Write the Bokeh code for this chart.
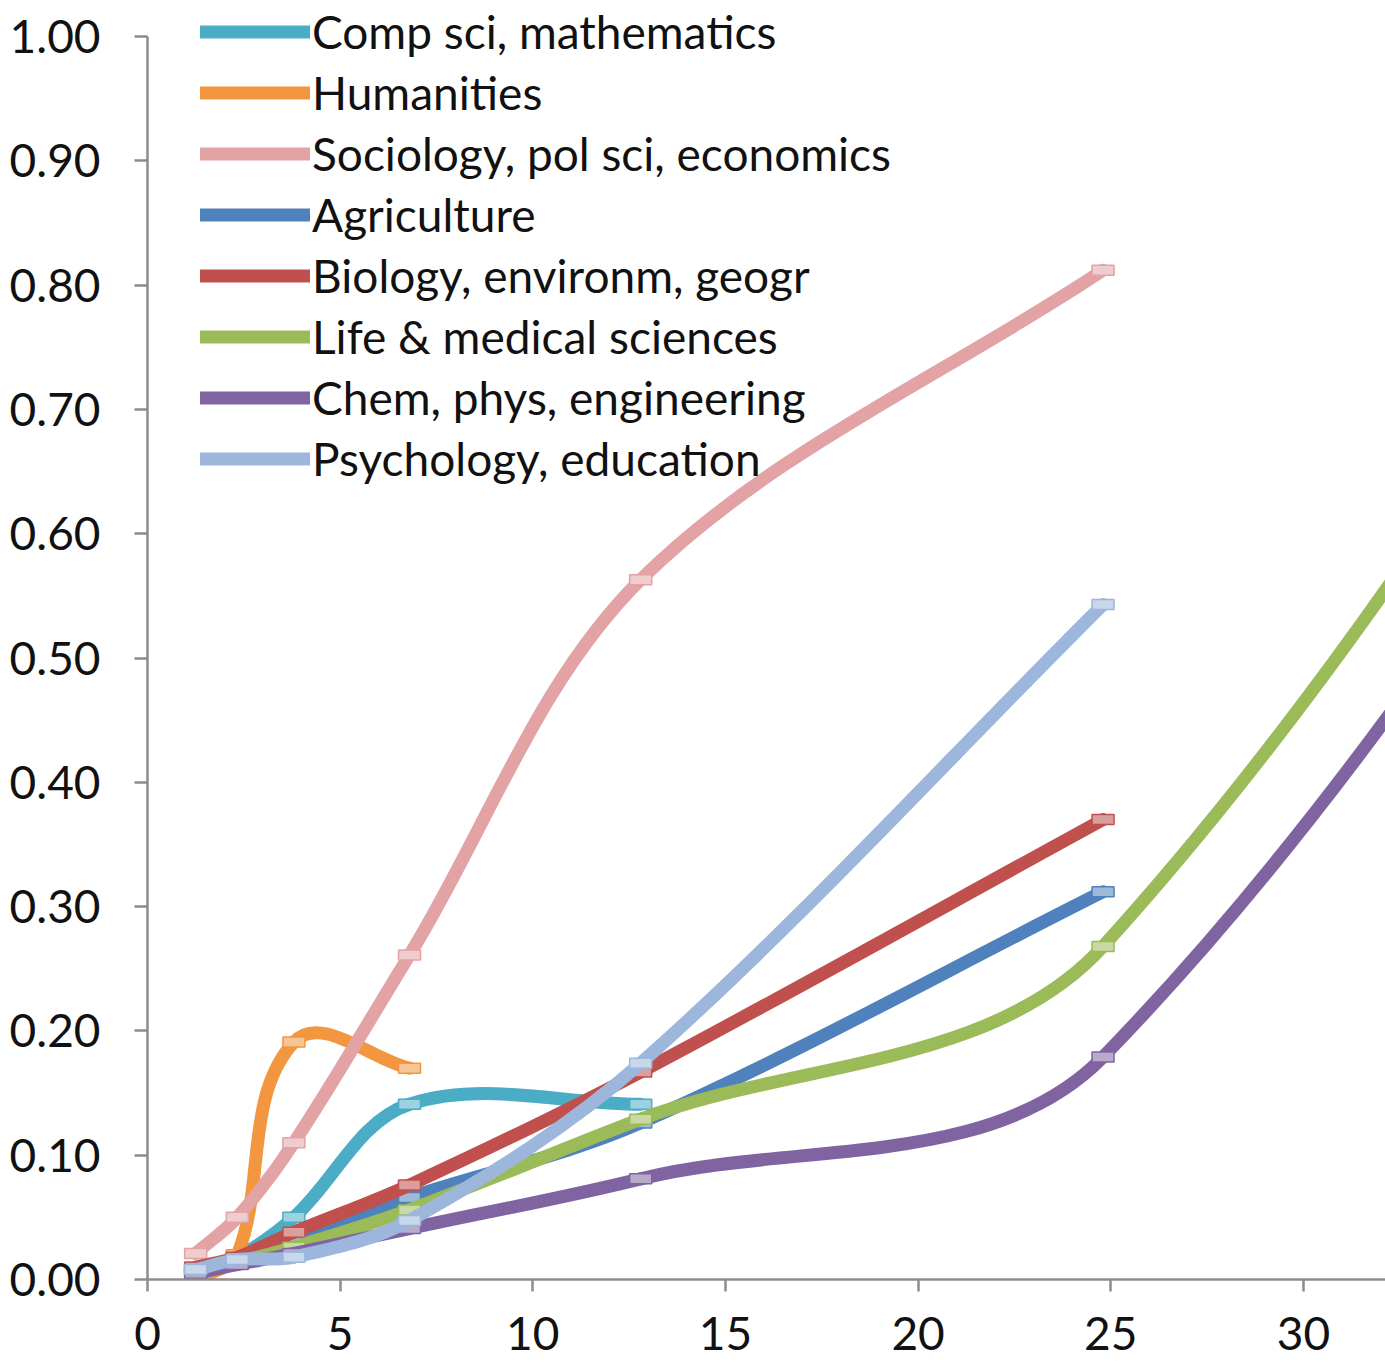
import math
from bokeh.plotting import figure
from bokeh.models import (FixedTicker, NumeralTickFormatter, Legend, LegendItem,
                          ColumnDataSource, Range1d)
from bokeh.embed import file_html
from bokeh.resources import INLINE

# ---------------- data ----------------
X = [1.25, 2.33, 3.8, 6.8, 12.8, 24.8, 48.8]

series_names = [
    "Comp sci, mathematics",
    "Humanities",
    "Sociology, pol sci, economics",
    "Agriculture",
    "Biology, environm, geogr",
    "Life & medical sciences",
    "Chem, phys, engineering",
    "Psychology, education",
]
comp_sci    = [0.008, 0.018, 0.050, 0.141, 0.141]
humanities  = [0.000, 0.020, 0.191, 0.170]
sociology   = [0.021, 0.050, 0.110, 0.261, 0.563, 0.812]
agriculture = [0.008, 0.016, 0.033, 0.066, 0.126, 0.312]
biology     = [0.010, 0.018, 0.038, 0.076, 0.167, 0.370]
life_med    = [0.007, 0.014, 0.026, 0.056, 0.129, 0.268, 1.36]
chem_phys   = [0.005, 0.012, 0.021, 0.041, 0.081, 0.179, 1.23]
psychology  = [0.008, 0.016, 0.018, 0.0475, 0.174, 0.543]
series_values = [comp_sci, humanities, sociology, agriculture, biology,
                 life_med, chem_phys, psychology]

x_ticks = [0, 5, 10, 15, 20, 25, 30]
y_ticks = [0.0, 0.1, 0.2, 0.3, 0.4, 0.5, 0.6, 0.7, 0.8, 0.9, 1.0]

# ---------------- style ----------------
colors = ["#4BACC6", "#F2963F", "#E3A3A5", "#4F81BD",
          "#C0504D", "#9BBB59", "#8064A2", "#9DB7DC"]

def tint(hex_color, f=0.45):
    h = hex_color.lstrip("#")
    r, g, b = (int(h[i:i + 2], 16) for i in (0, 2, 4))
    r, g, b = (int(c + (255 - c) * f) for c in (r, g, b))
    return "#%02x%02x%02x" % (r, g, b)

FONT = "Lato"
FONT_SIZE = "46px"
FIG_W, FIG_H = 1385, 1363
B_LEFT, B_TOP, B_BOTTOM, B_RIGHT = 147, 0, 84, 0
FRAME_W = FIG_W - B_LEFT - B_RIGHT
FRAME_H = FIG_H - B_TOP - B_BOTTOM
PX_PER_X = 38.53
PX_PER_Y = 1243.0
X_END = FRAME_W / PX_PER_X
Y_END = FRAME_H / PX_PER_Y
LINE_W = 13

p = figure(width=FIG_W, height=FIG_H, output_backend="svg", toolbar_location=None,
           x_range=Range1d(0, X_END), y_range=Range1d(0, Y_END),
           min_border_left=B_LEFT, min_border_top=B_TOP,
           min_border_bottom=B_BOTTOM, min_border_right=B_RIGHT)
p.outline_line_color = None
p.grid.visible = False
p.background_fill_color = "white"
p.border_fill_color = "white"

for ax in (p.xaxis[0], p.yaxis[0]):
    ax.axis_line_color = "#8c8c8c"
    ax.axis_line_width = 2.5
    ax.major_tick_line_color = "#8c8c8c"
    ax.major_tick_line_width = 2.5
    ax.major_tick_in = 0
    ax.minor_tick_line_color = None
    ax.major_label_text_font = FONT
    ax.major_label_text_font_size = FONT_SIZE
    ax.major_label_text_color = "#111111"

p.xaxis[0].ticker = FixedTicker(ticks=x_ticks)
p.xaxis[0].major_tick_out = 12
p.xaxis[0].major_label_standoff = 25
p.yaxis[0].ticker = FixedTicker(ticks=y_ticks)
p.yaxis[0].formatter = NumeralTickFormatter(format="0.00")
p.yaxis[0].major_tick_out = 13
p.yaxis[0].major_label_standoff = 34
p.yaxis[0].bounds = (y_ticks[0], y_ticks[-1])


def smooth_segments(xs, ys):
    """Excel-like smoothed line: cubic Bezier control points (screen space)."""
    P = [(x * PX_PER_X, y * PX_PER_Y) for x, y in zip(xs, ys)]
    n = len(P)

    def unit(a, b):
        dx, dy = b[0] - a[0], b[1] - a[1]
        L = math.hypot(dx, dy) or 1.0
        return dx / L, dy / L

    T = [unit(P[max(i - 1, 0)], P[min(i + 1, n - 1)]) for i in range(n)]
    seg = {k: [] for k in ("x0", "y0", "x1", "y1", "cx0", "cy0", "cx1", "cy1")}
    for i in range(n - 1):
        a, b = P[i], P[i + 1]
        d = math.hypot(b[0] - a[0], b[1] - a[1]) / 3.0
        c1 = (a[0] + T[i][0] * d, a[1] + T[i][1] * d)
        c2 = (b[0] - T[i + 1][0] * d, b[1] - T[i + 1][1] * d)
        seg["x0"].append(xs[i]); seg["y0"].append(ys[i])
        seg["x1"].append(xs[i + 1]); seg["y1"].append(ys[i + 1])
        seg["cx0"].append(c1[0] / PX_PER_X); seg["cy0"].append(c1[1] / PX_PER_Y)
        seg["cx1"].append(c2[0] / PX_PER_X); seg["cy1"].append(c2[1] / PX_PER_Y)
    return seg


legend_items = []
for name, vals, col in zip(series_names, series_values, colors):
    xs = X[:len(vals)]
    src = ColumnDataSource(smooth_segments(xs, vals))
    r = p.bezier(x0="x0", y0="y0", x1="x1", y1="y1", cx0="cx0", cy0="cy0",
                 cx1="cx1", cy1="cy1", source=src, line_color=col,
                 line_width=LINE_W, line_cap="round", line_join="round")
    p.rect(x=xs, y=vals, width=22, height=10, width_units="screen",
           height_units="screen", fill_color=tint(col), line_color=col,
           line_width=1.5)
    legend_items.append(LegendItem(label=name, renderers=[r]))

ROW_H = 61
N_ROWS = len(series_names)
legend_top = 0.5
legend = Legend(items=legend_items,
                location=(53, FRAME_H - legend_top - ROW_H * N_ROWS),
                glyph_width=110, glyph_height=ROW_H, label_height=ROW_H,
                spacing=0, padding=0, margin=0, label_standoff=2,
                label_text_font=FONT, label_text_font_size=FONT_SIZE,
                label_text_color="#111111", border_line_color=None,
                background_fill_alpha=0)
p.add_layout(legend)

open("out.html", "w").write(file_html(p, INLINE))
